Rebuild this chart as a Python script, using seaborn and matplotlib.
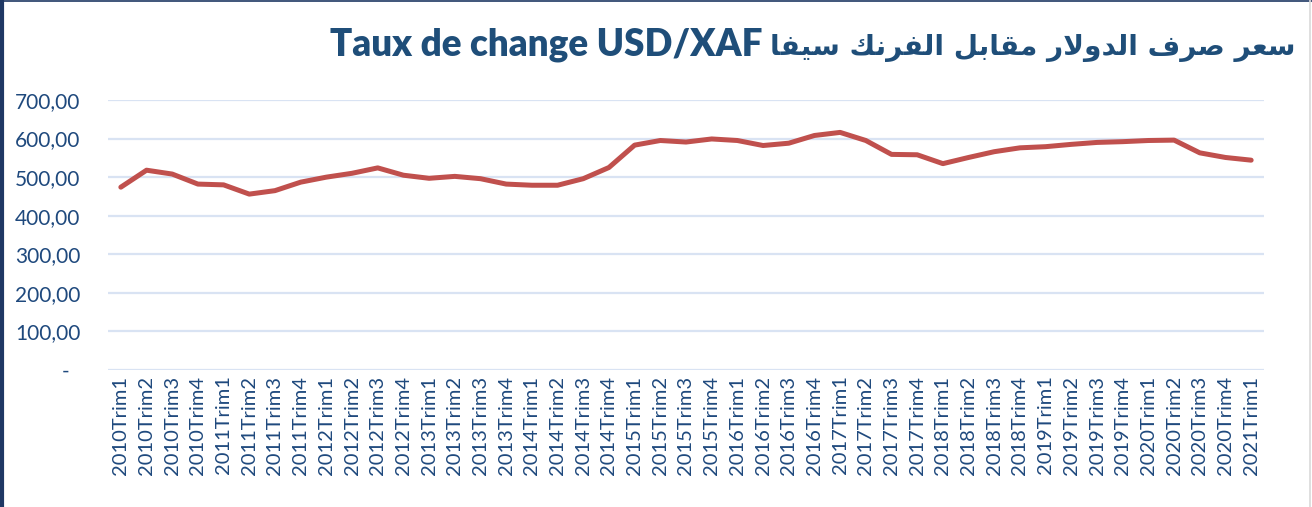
"""USD/XAF exchange rate by quarter, 2010-2021."""

import matplotlib.pyplot as plt
import numpy as np
import pandas as pd
import seaborn as sns
from matplotlib.lines import Line2D

YEARS = range(2010, 2021)
QUARTERS = [f"{year}Trim{q}" for year in YEARS for q in range(1, 5)] + ["2021Trim1"]
RATES = [
    474, 518, 508, 482, 480, 456, 465, 487, 500, 510, 524, 505,
    497, 502, 496, 482, 479, 479, 496, 525, 583, 595, 591, 599,
    595, 582, 588, 608, 616, 595, 559, 558, 535, 551, 566, 576,
    579, 585, 590, 592, 595, 596, 563, 551, 544,
]
Y_TICKS = [0, 100, 200, 300, 400, 500, 600, 700]
TITLE_FR = "Taux de change USD/XAF"
TITLE_AR = "سعر صرف الدولار مقابل الفرنك سيفا"

NAVY = "#1F4E79"
TICK_BLUE = "#1F497D"
LINE_RED = "#C0504D"
GRID_BLUE = "#D9E3F3"

# isolated, final, initial, medial presentation forms
FORMS = {
    "ا": (0xFE8D, 0xFE8E), "د": (0xFEA9, 0xFEAA), "ر": (0xFEAD, 0xFEAE),
    "و": (0xFEED, 0xFEEE),
    "ب": (0xFE8F, 0xFE90, 0xFE91, 0xFE92), "س": (0xFEB1, 0xFEB2, 0xFEB3, 0xFEB4),
    "ص": (0xFEB9, 0xFEBA, 0xFEBB, 0xFEBC), "ع": (0xFEC9, 0xFECA, 0xFECB, 0xFECC),
    "ف": (0xFED1, 0xFED2, 0xFED3, 0xFED4), "ق": (0xFED5, 0xFED6, 0xFED7, 0xFED8),
    "ك": (0xFED9, 0xFEDA, 0xFEDB, 0xFEDC), "ل": (0xFEDD, 0xFEDE, 0xFEDF, 0xFEE0),
    "م": (0xFEE1, 0xFEE2, 0xFEE3, 0xFEE4), "ن": (0xFEE5, 0xFEE6, 0xFEE7, 0xFEE8),
    "ي": (0xFEF1, 0xFEF2, 0xFEF3, 0xFEF4),
}
LAM_ALEF = (0xFEFB, 0xFEFC)


def shape_arabic(text: str) -> str:
    """Join Arabic letters and return them in visual (left-to-right) order."""

    out = []
    chars = list(text)
    i = 0
    while i < len(chars):
        ch = chars[i]
        if ch not in FORMS:
            out.append(ch)
            i += 1
            continue
        prev = chars[i - 1] if i > 0 else None
        joins_prev = prev in FORMS and len(FORMS[prev]) == 4
        if ch == "ل" and i + 1 < len(chars) and chars[i + 1] == "ا":
            out.append(chr(LAM_ALEF[1] if joins_prev else LAM_ALEF[0]))
            i += 2
            continue
        nxt = chars[i + 1] if i + 1 < len(chars) else None
        joins_next = len(FORMS[ch]) == 4 and nxt in FORMS
        if joins_prev and joins_next:
            code = FORMS[ch][3]
        elif joins_prev:
            code = FORMS[ch][1]
        elif joins_next:
            code = FORMS[ch][2]
        else:
            code = FORMS[ch][0]
        out.append(chr(code))
        i += 1
    return "".join(reversed(out))


data = pd.DataFrame({"quarter": QUARTERS, "rate": RATES})

sns.set_theme(style="white")
plt.rcParams["font.family"] = ["Lato", "DejaVu Sans"]

fig = plt.figure(figsize=(13.12, 5.07), dpi=100)
ax = fig.add_axes([108 / 1312, 1 - 370 / 507, 1156 / 1312, 270 / 507])

sns.lineplot(data=data, x="quarter", y="rate", color=LINE_RED, linewidth=3.6,
             sort=False, ax=ax, solid_capstyle="round", solid_joinstyle="round")

ax.set_xlim(-0.5, len(QUARTERS) - 0.5)
ax.set_ylim(0, 700)
ax.set_yticks(Y_TICKS)
ax.set_yticklabels(["-  "] + [f"{v:.2f}".replace(".", ",") for v in Y_TICKS[1:]])
ax.set_xticks(range(len(QUARTERS)))
ax.set_xticklabels(QUARTERS, rotation=90)
ax.tick_params(axis="y", length=0, pad=20, labelsize=15, labelcolor=TICK_BLUE)
ax.tick_params(axis="x", length=0, pad=4, labelsize=14.5, labelcolor=TICK_BLUE)
ax.set_xlabel("")
ax.set_ylabel("")
ax.grid(axis="y", color=GRID_BLUE, linewidth=1.6)
ax.grid(axis="x", visible=False)
ax.set_axisbelow(True)
sns.despine(ax=ax, left=True, bottom=True)

title_y = 1 - 55 / 507
fig.text(762 / 1312, title_y, TITLE_FR, ha="right", va="baseline",
         fontsize=26.5, fontweight="heavy", color=NAVY)
fig.text(1295 / 1312, title_y, shape_arabic(TITLE_AR), ha="right", va="baseline",
         fontsize=20.2, fontweight="bold", color=NAVY, family="DejaVu Sans")

# frame edges of the original chart box
fig.add_artist(Line2D([0.0015, 0.0015], [0, 1], color="#1F3864", linewidth=3))
fig.add_artist(Line2D([0, 1], [0.999, 0.999], color="#1F3864", linewidth=1.2))
fig.add_artist(Line2D([0.9985, 0.9985], [0, 1], color="#D9D9D9", linewidth=1.2))

fig.savefig("out.png", dpi=100)
